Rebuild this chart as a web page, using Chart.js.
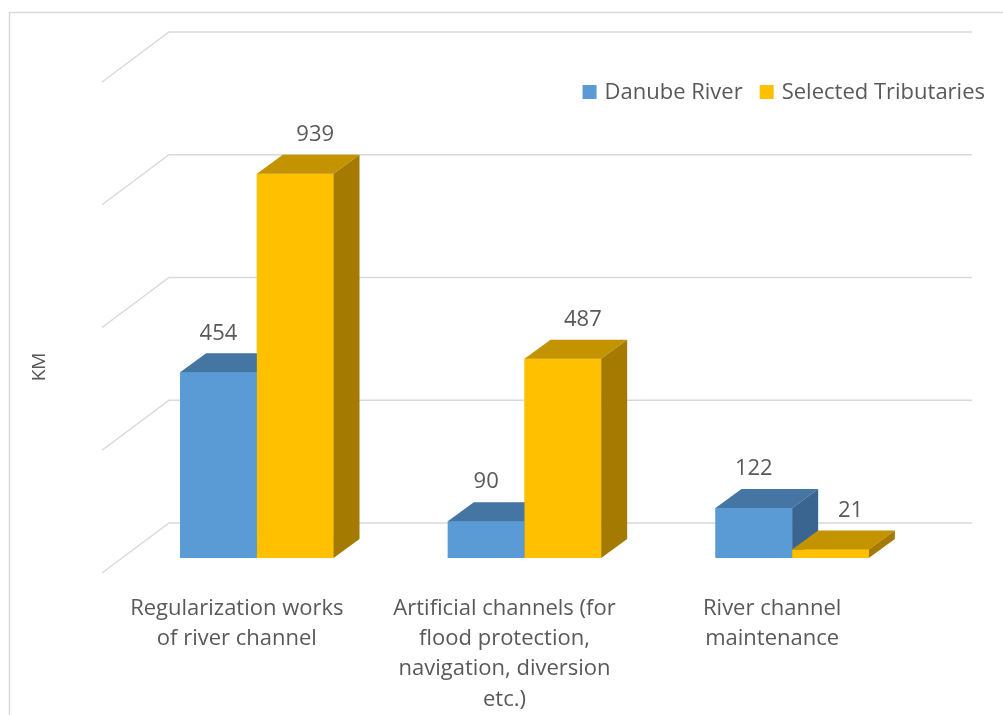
<!DOCTYPE html>
<html>
<head>
<meta charset="utf-8">
<script src="https://cdn.jsdelivr.net/npm/chart.js@4.4.0/dist/chart.umd.min.js"></script>
<style>
  html, body { margin: 0; background: #fff; }
  #wrap { width: 1003px; height: 715px; }
</style>
</head>
<body>
<div id="wrap"><canvas id="chart" width="1003" height="715"></canvas></div>
<script>
// ─── Data ───
const categories = [
  ['Regularization works', 'of river channel'],
  ['Artificial channels (for', 'flood protection,', 'navigation, diversion', 'etc.)'],
  ['River channel', 'maintenance'],
];
const seriesNames = ['Danube River', 'Selected Tributaries'];
const danube = [454, 90, 122];
const tributaries = [939, 487, 21];
const yMax = 1200;
const yStep = 300;

// ─── Look ───
const FONT = "'Open Sans', sans-serif";
const TEXT = '#595959';
const GRID = '#D9D9D9';
const fronts = ['#5B9BD5', '#FFC000'];
const tops = ['#4475A3', '#C49300'];
const sides = ['#3A6590', '#A47B00'];
const labelShift = [0, 20];

const depth = { dx: 26, dy: -19 };   // bar depth
const wall = { dx: 46, dy: -35 };    // back wall offset from bar front plane
const floorFront = { dx: -21, dy: 15 };

// ─── 3D walls + boxes ───
const box3d = {
  id: 'box3d',
  beforeDraw(chart) {
    const { ctx } = chart;
    ctx.save();
    ctx.strokeStyle = GRID;
    ctx.lineWidth = 1.5;
    ctx.strokeRect(9.5, 12.5, 1100, 800);
    ctx.restore();
  },
  beforeDatasetsDraw(chart) {
    const { ctx, chartArea, scales: { y } } = chart;
    ctx.save();
    ctx.strokeStyle = GRID;
    ctx.lineWidth = 1.5;
    y.ticks.forEach(t => {
      const py = y.getPixelForValue(t.value);
      ctx.beginPath();
      ctx.moveTo(chartArea.left + floorFront.dx, py + floorFront.dy);
      ctx.lineTo(chartArea.left + wall.dx, py + wall.dy);
      ctx.lineTo(chartArea.right + wall.dx, py + wall.dy);
      ctx.stroke();
    });
    ctx.restore();
  },
  afterDatasetsDraw(chart) {
    const { ctx } = chart;
    ctx.save();
    chart.data.datasets.forEach((ds, d) => {
      chart.getDatasetMeta(d).data.forEach(bar => {
        const { x, y, base, width } = bar.getProps(['x', 'y', 'base', 'width'], true);
        const x0 = x - width / 2, x1 = x + width / 2;
        ctx.fillStyle = fronts[d];
        ctx.fillRect(x0, y, width, base - y);

        ctx.fillStyle = tops[d];
        ctx.beginPath();
        ctx.moveTo(x0, y);
        ctx.lineTo(x0 + depth.dx, y + depth.dy);
        ctx.lineTo(x1 + depth.dx, y + depth.dy);
        ctx.lineTo(x1, y);
        ctx.closePath();
        ctx.fill();

        ctx.fillStyle = sides[d];
        ctx.beginPath();
        ctx.moveTo(x1, y);
        ctx.lineTo(x1 + depth.dx, y + depth.dy);
        ctx.lineTo(x1 + depth.dx, base + depth.dy);
        ctx.lineTo(x1, base);
        ctx.closePath();
        ctx.fill();
      });
    });

    // value labels
    ctx.fillStyle = TEXT;
    ctx.font = `22px ${FONT}`;
    ctx.textAlign = 'center';
    ctx.textBaseline = 'middle';
    chart.data.datasets.forEach((ds, d) => {
      chart.getDatasetMeta(d).data.forEach((bar, i) => {
        const { x, y } = bar.getProps(['x', 'y'], true);
        ctx.fillText(ds.data[i], x + labelShift[d], y - 39);
      });
    });

    // axis title
    ctx.save();
    ctx.translate(40, 367);
    ctx.rotate(-Math.PI / 2);
    ctx.font = `19px ${FONT}`;
    ctx.fillText('KM', 0, 0);
    ctx.restore();

    // legend, right aligned at x=985
    ctx.font = `22px ${FONT}`;
    ctx.textAlign = 'left';
    const box = 14, gap = 8, between = 17;
    const widths = chart.data.datasets.map(ds => ctx.measureText(ds.label).width);
    const total = widths.reduce((s, w) => s + box + gap + w, 0) + between * (widths.length - 1);
    let lx = 985 - total;
    chart.data.datasets.forEach((ds, d) => {
      ctx.fillStyle = fronts[d];
      ctx.fillRect(lx, 85, box, box);
      ctx.fillStyle = TEXT;
      ctx.fillText(ds.label, lx + box + gap, 93);
      lx += box + gap + widths[d] + between;
    });
    ctx.restore();
  },
};

new Chart(document.getElementById('chart'), {
  type: 'bar',
  data: {
    labels: categories,
    datasets: [
      { label: seriesNames[0], data: danube, backgroundColor: fronts[0] },
      { label: seriesNames[1], data: tributaries, backgroundColor: fronts[1] },
    ],
  },
  options: {
    responsive: false,
    animation: false,
    devicePixelRatio: 1,
    categoryPercentage: 0.573,
    barPercentage: 1,
    layout: { padding: { left: 0, right: 77, top: 67, bottom: 0 } },
    plugins: {
      legend: { display: false },
      tooltip: { enabled: false },
    },
    scales: {
      x: {
        grid: { display: false },
        border: { display: false },
        ticks: {
          color: TEXT,
          font: { family: FONT, size: 22, lineHeight: 1.386 },
          padding: 27,
          labelOffset: -20,
          maxRotation: 0,
          autoSkip: false,
        },
        afterFit(scale) { scale.height = 157; },
      },
      y: {
        min: 0,
        max: yMax,
        grid: { display: false },
        border: { display: false },
        ticks: { stepSize: yStep, display: false },
        afterFit(scale) { scale.width = 123; },
      },
    },
  },
  plugins: [box3d],
});
</script>
</body>
</html>
